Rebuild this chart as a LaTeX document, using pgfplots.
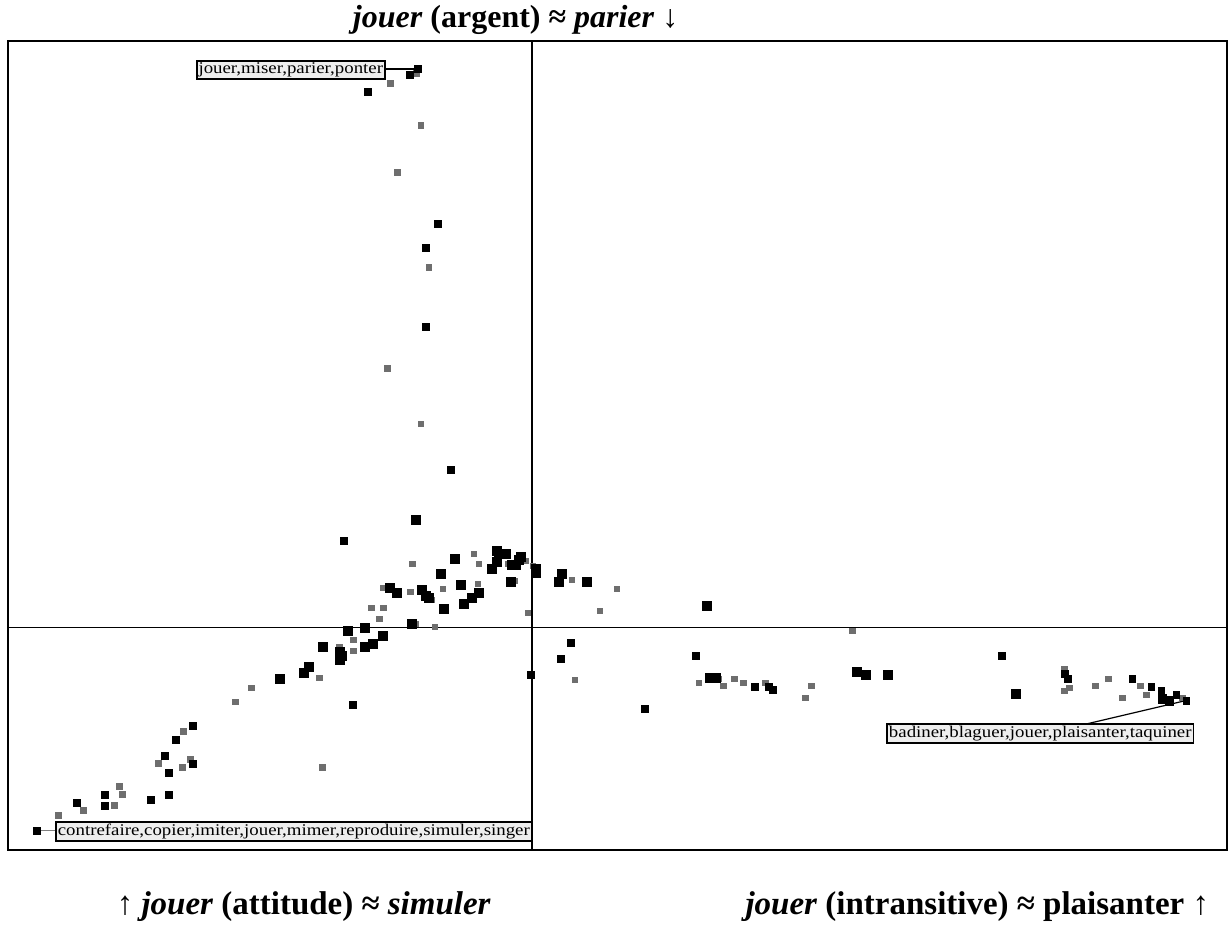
\documentclass[border=0pt]{standalone}
\usepackage{pgfplots}
\pgfplotsset{compat=1.18}
\usepackage{fontspec}
\setmainfont{Liberation Serif}
\newfontfamily\boxfont[FakeStretch=1.15]{Liberation Serif}
\definecolor{ptgray}{RGB}{110,110,110}
\definecolor{boxfill}{RGB}{238,238,238}

\begin{document}
\begin{tikzpicture}
\begin{axis}[
    scale only axis,
    width=610pt, height=405pt,
    xmin=8, xmax=1228, ymin=41, ymax=851,
    y dir=reverse,
    xtick=\empty, ytick=\empty,
    axis line style={line width=0.9pt},
    clip=false,
  ]
  % whole page: pixel frame of the reference
  \path (axis cs:0,0) rectangle (axis cs:1228,926);

  % cross lines
  \addplot[black, line width=0.9pt] coordinates {(532,41) (532,851)};
  \addplot[black, line width=0.9pt] coordinates {(8,628) (1228,628)};

  % grey points
  \addplot[only marks, mark=square*, mark size=1.45pt, mark options={draw=ptgray, line width=0.1pt, fill=ptgray}] coordinates {
    (416,73) (390,83) (421,125) (397,172) (429,267) (387,368) (421,424)
    (412,564) (383,588) (410,592) (432,600) (443,589) (371,608) (383,608)
    (379,619) (415,624) (435,627) (353,640) (353,651) (339,647) (319,678)
    (474,554) (479,564) (508,564) (526,561) (533,566) (572,580) (617,589)
    (600,611) (528,613) (478,584) (515,581) (575,680)
    (251,688) (235,702) (183,732) (158,764) (190,760) (182,768) (322,768)
    (119,787) (122,795) (114,806) (83,811) (58,816)
    (853,631) (699,683) (719,679) (724,686) (735,679) (744,683) (766,683)
    (812,686) (806,698)
    (1065,669) (1070,688) (1065,691) (1096,686) (1109,679) (1141,686)
    (1123,698) (1147,695) (1183,698)
  };

  % black points, small
  \addplot[only marks, mark=square*, mark size=1.7pt, mark options={draw=black, line width=0.1pt, fill=black}] coordinates {
    (418,69) (410,75) (368,92) (438,224) (426,248) (426,327) (451,470)
    (344,541) (353,705) (531,675) (571,643) (561,659) (645,709) (696,656)
    (755,687) (769,687) (773,690)
    (193,726) (176,740) (165,756) (193,764) (169,773) (105,795) (169,795)
    (151,800) (77,803) (105,806)
    (1002,656) (1065,674) (1068,679) (1133,679) (1152,687) (1162,691)
    (1177,695) (1187,701) (37,831)
  };

  % black points, large
  \addplot[only marks, mark=square*, mark size=2.2pt, mark options={draw=black, line width=0.1pt, fill=black}] coordinates {
    (416,520) (390,588) (397,593) (422,590) (426,596) (429,598) (441,574)
    (455,559) (444,609) (412,624) (365,628) (348,631) (383,636) (373,644)
    (365,647) (323,647) (340,652) (342,656) (340,660) (309,667) (304,673)
    (280,679)
    (497,551) (499,554) (506,554) (497,562) (492,569) (512,565) (516,565)
    (521,557) (519,560) (536,569) (536,573) (562,574) (559,582) (587,582)
    (461,585) (479,593) (472,598) (464,604) (511,582)
    (707,606) (710,678) (716,678) (857,672) (866,675) (888,675) (1016,694)
    (1163,699) (1170,701)
  };

  % leader lines
  \draw[black, line width=0.6pt] (axis cs:386,69) -- (axis cs:418,69);
  \draw[gray, line width=0.4pt] (axis cs:58,831) -- (axis cs:37,831);
  \draw[black, line width=0.6pt] (axis cs:1085,725) -- (axis cs:1187,701);

  % label boxes
  \tikzset{lbl/.style={draw=black, line width=0.8pt, fill=boxfill, inner sep=0.9pt,
      font=\boxfont\fontsize{8.2}{9}\selectfont}}
  \node[lbl] at (axis cs:291,70) {jouer,miser,parier,ponter};
  \node[lbl] at (axis cs:294,832) {contrefaire,copier,imiter,jouer,mimer,reproduire,simuler,singer};
  \node[lbl] at (axis cs:1041,734) {badiner,blaguer,jouer,plaisanter,taquiner};

  % direction labels
  \node[inner sep=0pt, font=\bfseries\fontsize{16}{18}\selectfont] at (axis cs:516,20)
    {\textit{jouer} (argent) ≈ \textit{parier} ↓};
  \node[inner sep=0pt, font=\bfseries\fontsize{16.5}{18}\selectfont] at (axis cs:304,907)
    {↑ \textit{jouer} (attitude) ≈ \textit{simuler}};
  \node[inner sep=0pt, font=\bfseries\fontsize{16.5}{18}\selectfont] at (axis cs:978,907)
    {\textit{jouer} (intransitive) ≈ plaisanter ↑};
\end{axis}
\end{tikzpicture}
\end{document}
